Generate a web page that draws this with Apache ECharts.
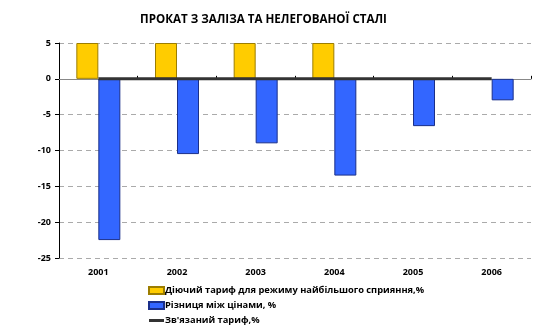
<!DOCTYPE html>
<html>
<head>
<meta charset="utf-8">
<script src="https://cdn.jsdelivr.net/npm/echarts@6/dist/echarts.min.js"></script>
<style>
  html, body { margin: 0; padding: 0; background: #fff; }
  #chart { width: 544px; height: 329px; }
</style>
</head>
<body>
<div id="chart"></div>
<script>
// Categories and series values
const years = ['2001', '2002', '2003', '2004', '2005', '2006'];
const mfnTariff = [5, 5, 5, 5, null, null];
const priceGap = [-22.5, -10.5, -9, -13.5, -6.6, -3];
const boundTariff = [0, 0, 0, 0, 0, 0];

const seriesNames = [
  'Діючий тариф для режиму найбільшого сприяння,%',
  'Різниця між цінами, %',
  'Зв\'язаний тариф,%'
];

const font = '"Open Sans", "DejaVu Sans", sans-serif';

const chart = echarts.init(document.getElementById('chart'));
chart.setOption({
  animation: false,
  title: {
    text: 'ПРОКАТ З ЗАЛІЗА ТА НЕЛЕГОВАНОЇ СТАЛІ',
    left: 140,
    top: 14,
    padding: 0,
    textStyle: { fontFamily: font, fontSize: 11.6, fontWeight: 'bold', color: '#000' }
  },
  grid: { left: 59, right: 13, top: 43, bottom: 71 },
  legend: {
    orient: 'vertical',
    left: 148,
    top: 286,
    height: 60,
    padding: 0,
    itemGap: 6,
    itemWidth: 15,
    itemHeight: 7,
    textStyle: { fontFamily: font, fontSize: 9.3, fontWeight: 'bold', color: '#000', padding: [0, 0, 0, -4] },
    data: [
      { name: seriesNames[0], icon: 'rect' },
      { name: seriesNames[1], icon: 'rect' },
      { name: seriesNames[2], icon: 'path://M0,0H15V3H0Z' }
    ]
  },
  xAxis: [
    {
      type: 'category',
      data: years,
      position: 'bottom',
      axisLine: { show: false, onZero: false },
      axisTick: { show: false },
      axisLabel: { fontFamily: font, fontSize: 9, fontWeight: 'bold', color: '#000', margin: 10 }
    },
    {
      type: 'category',
      data: years,
      position: 'top',
      axisLine: { show: true, onZero: true, lineStyle: { color: '#888', width: 1 } },
      axisTick: { show: true, inside: false, length: 3, lineStyle: { color: '#000' } },
      axisLabel: { show: false }
    }
  ],
  yAxis: {
    type: 'value',
    min: -25,
    max: 5,
    interval: 5,
    axisLine: { show: true, lineStyle: { color: '#000', width: 1 } },
    axisTick: { show: true, length: 4, lineStyle: { color: '#000' } },
    axisLabel: { fontFamily: font, fontSize: 9, fontWeight: 'bold', color: '#000', margin: 8 },
    splitLine: { show: true, lineStyle: { color: '#aaa', type: [5, 4], width: 1 } }
  },
  series: [
    {
      name: seriesNames[0],
      type: 'bar',
      data: mfnTariff,
      barWidth: 22,
      barGap: '0%',
      itemStyle: { color: '#FFCC00', borderColor: '#9c7d00', borderWidth: 1 }
    },
    {
      name: seriesNames[1],
      type: 'bar',
      data: priceGap,
      barWidth: 22,
      barGap: '0%',
      itemStyle: { color: '#3366FF', borderColor: '#1a2f8a', borderWidth: 1 }
    },
    {
      name: seriesNames[2],
      type: 'line',
      data: boundTariff,
      symbol: 'none',
      z: 5,
      lineStyle: { color: '#333', width: 3 },
      itemStyle: { color: '#333' }
    }
  ]
});
</script>
</body>
</html>
